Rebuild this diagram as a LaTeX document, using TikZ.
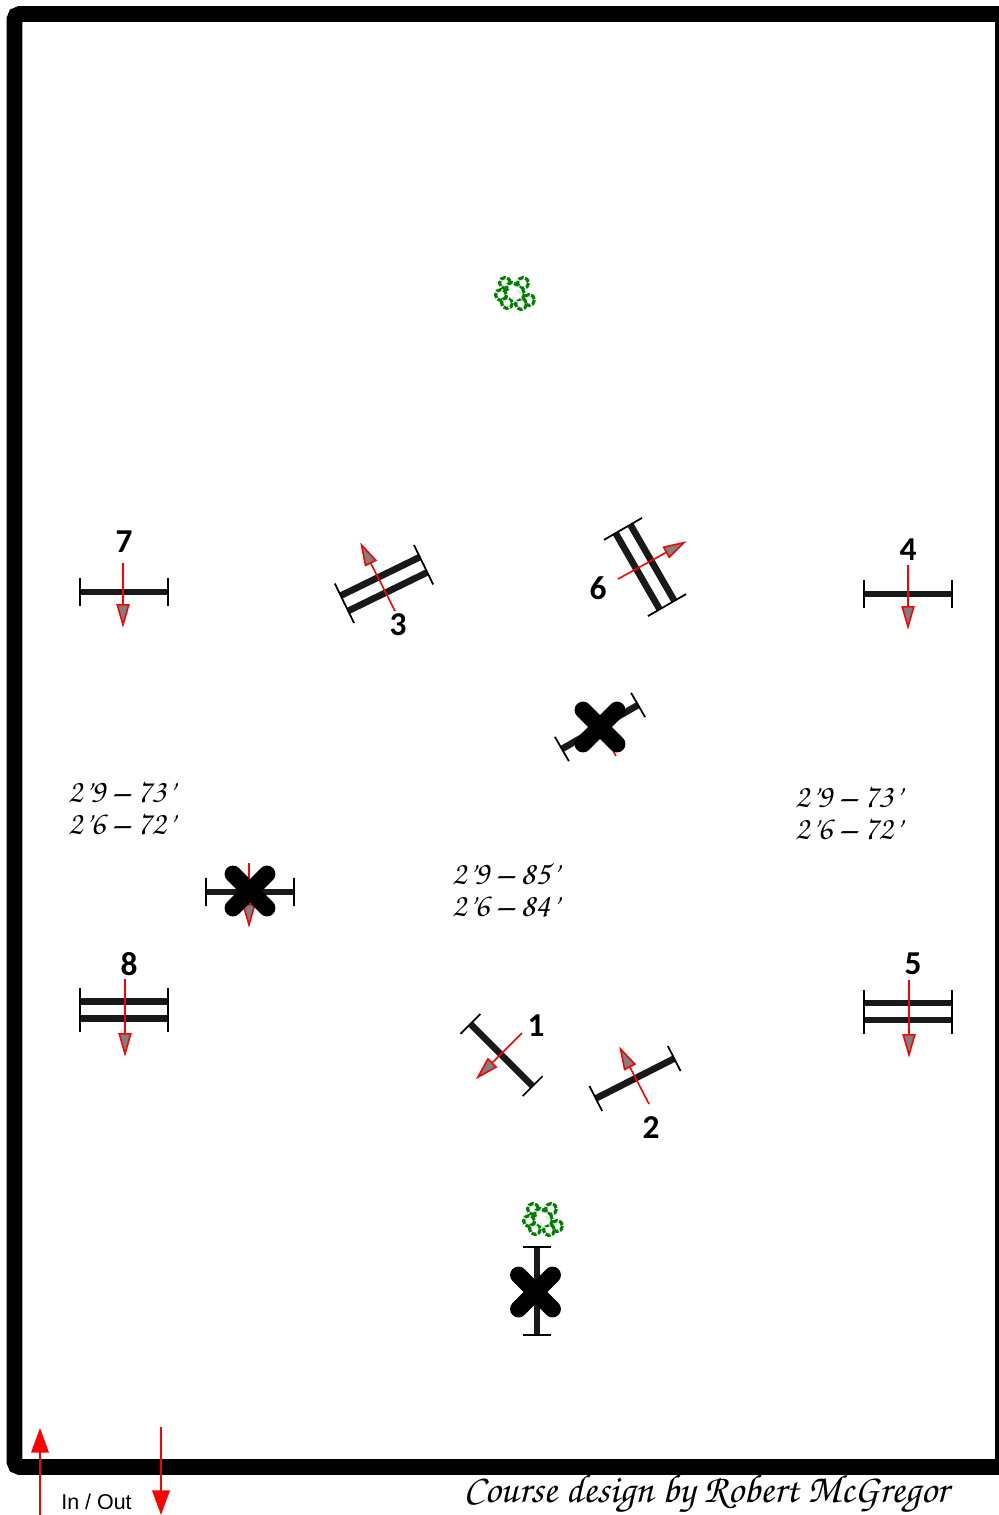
\documentclass[tikz,border=0pt]{standalone}
\usepackage{fontspec}
\setmainfont{Carlito}
\newfontfamily\labelfont{Liberation Sans}
\usetikzlibrary{arrows.meta}
\newcommand{\handfont}{\fontencoding{T1}\fontfamily{pzc}\fontseries{mb}\fontshape{it}\selectfont}

\begin{document}
\begin{tikzpicture}[
  x=0.02cm,y=-0.02cm,
  rail/.style={line width=3.8pt,black!90},
  post/.style={line width=1pt},
  flow/.style={red,line width=0.9pt,shorten >=-1pt,-{Triangle[length=13.5pt,width=7.5pt,fill=gray]}},
  inout/.style={red,line width=0.9pt,-{Triangle[length=14pt,width=10pt]}},
  num/.style={font=\fontsize{19}{19}\selectfont\bfseries},
  dist/.style={font=\fontsize{19}{18}\handfont,align=center},
  single/.pic={
    \draw[rail] (-44,0)--(44,0);
    \draw[post] (-44,-14)--(-44,14) (44,-14)--(44,14);
  },
  double/.pic={
    \draw[rail] (-44,-8.5)--(44,-8.5) (-44,8.5)--(44,8.5);
    \draw[post] (-44,-22)--(-44,22) (44,-22)--(44,22);
  },
  cross/.pic={
    \draw[line width=9.6pt,line cap=round] (-17,-17)--(17,17) (-17,17)--(17,-17);
  },
  shrub/.pic={
    \foreach \bx/\by in {-10/-9,8/-9,-14/3,14/8,-8/11,6/12,-3/-4,4/2}
      \draw[green!50!black,line width=1.8pt,dash pattern=on 3pt off 0.9pt,fill=white]
        (\bx,\by) circle (5.5);
    \fill[white] (0,1) circle (7);
    \foreach \bx/\by in {-6/-2,0/-6,5/1,-2/6,3/-1}
      \fill[green!50!black,opacity=0.35] (\bx,\by) circle (0.9);
  }]
  \useasboundingbox (0,0) rectangle (999,1515);

  % Arena fence
  \draw[line width=9pt,rounded corners=3pt] (14.5,14) rectangle (1003,1467);

  % Shrubs
  \pic at (515,292) {shrub};
  \pic at (543,1218) {shrub};

  % Verticals
  \pic[rotate=-45] at (501.5,1055) {single};
  \pic[rotate=27]  at (635,1078.5) {single};
  \pic[rotate=26]  at (384,584)    {double};
  \pic at (908,594)                {single};
  \pic at (908,1011.5)             {double};
  \pic[rotate=-60] at (645,567)    {double};
  \pic at (124,592)                {single};
  \pic at (124,1010)               {double};

  % Gates closed off
  \pic[rotate=30] at (600,727) {single};
  \pic at (250,892)            {single};
  \pic[rotate=90] at (537,1291) {single};

  % Direction of jump
  \draw[flow] (522,1033)--(477,1078);
  \draw[flow] (649,1104)--(620,1048);
  \draw[flow] (395,611)--(361,544);
  \draw[flow] (908,565)--(908,628);
  \draw[flow] (909,980)--(909,1056);
  \draw[flow] (618,579)--(685,542);
  \draw[flow] (123,563)--(123,626);
  \draw[flow] (125,979)--(125,1055);
  \draw[flow] (616,756)--(588,707);
  \draw[flow] (249,863)--(249,926);

  \pic at (600,727)  {cross};
  \pic at (250,891)  {cross};
  \pic at (535.5,1292) {cross};

  % Numbers
  \node[num] (n1) at (536,1026) {1};
  \node[num] (n2) at (651,1128) {2};
  \node[num] (n3) at (398,625)  {3};
  \node[num] (n4) at (908,550)  {4};
  \node[num] (n5) at (913,964)  {5};
  \node[num] (n6) at (598,588)  {6};
  \node[num] (n7) at (124,542)  {7};
  \node[num] (n8) at (129,964)  {8};

  % Distances
  \node[dist] (distleft)  at (121,808) {2'9 -- 73'\\2'6 -- 72'};
  \node[dist] (distright) at (848,813) {2'9 -- 73'\\2'6 -- 72'};
  \node[dist] (distmid)   at (505,890) {2'9 -- 85'\\2'6 -- 84'};

  % In and out
  \draw[inout] (40,1515)--(40,1428);
  \draw[inout] (161,1427)--(161,1515);
  \node[font=\fontsize{12.2}{12}\labelfont] (inoutlabel) at (96.5,1502) {In / Out};

  \node[font=\fontsize{22.7}{24}\handfont] (credit) at (706,1494) {Course design by Robert McGregor};
\end{tikzpicture}
\end{document}
